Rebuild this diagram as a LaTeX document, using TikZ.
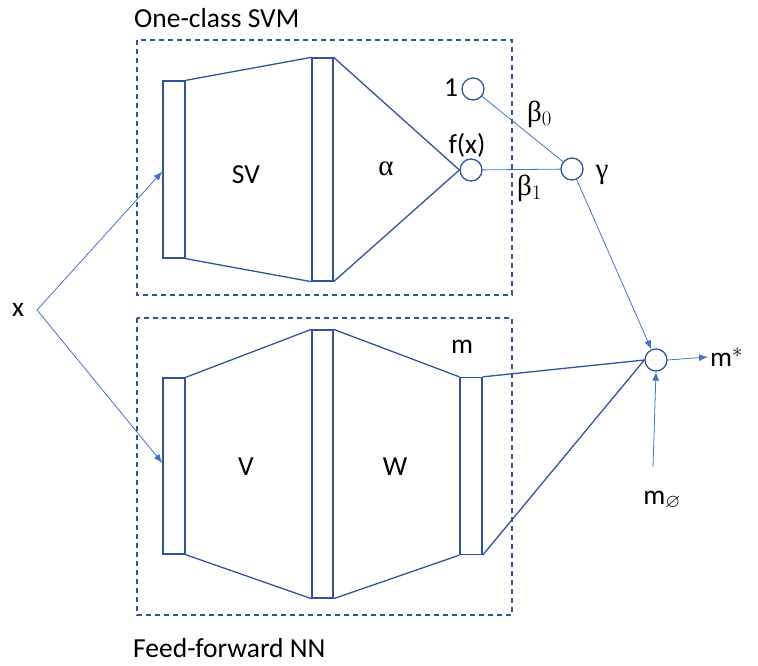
\documentclass[tikz,border=0pt]{standalone}
\usepackage{fontspec}
\usepackage{amssymb}
\setmainfont{Carlito}
\newfontfamily\greekfont{Liberation Serif}
\usetikzlibrary{arrows.meta}

\definecolor{boxblue}{HTML}{2F5597}
\definecolor{wireblue}{HTML}{4472C4}

\tikzset{
  layer/.style={draw=boxblue, line width=1.3pt, inner sep=0pt, minimum width=#1},
  layer/.default=22pt,
  unit/.style={draw=boxblue, line width=1.3pt, circle, inner sep=0pt, minimum size=22pt},
  frame/.style={draw=boxblue, line width=1.2pt, dash pattern=on 5pt off 4pt},
  edge/.style={draw=boxblue, line width=1.3pt},
  wire/.style={draw=wireblue, line width=0.8pt},
  feed/.style={wire, -{Latex[length=9pt,width=7pt]}},
  lbl/.style={font=\fontsize{27.5}{32}\selectfont, inner sep=0pt},
  glbl/.style={font=\greekfont\fontsize{29}{32}\selectfont, inner sep=0pt}
}

\begin{document}
\begin{tikzpicture}[x=1pt, y=-1pt]
\useasboundingbox (0,0) rectangle (758,665);

% frames
\draw[frame] (137,40) rectangle (512,295);
\draw[frame] (137,318) rectangle (512,615);
\node[lbl, anchor=west] (svmtitle) at (134,18) {One-class SVM};
\node[lbl, anchor=west] (nntitle) at (133,648) {Feed-forward NN};

% one-class SVM
\node[layer, minimum height=177pt] (svin) at (174,169.5) {};
\node[layer=21pt, minimum height=223pt] (svhid) at (322.5,169.5) {};
\node[unit] (fx) at (471,170) {};
\node[unit] (one) at (473,89) {};
\node[unit] (gam) at (572,169) {};
\draw[edge] (svin.north east) -- (svhid.north west);
\draw[edge] (svin.south east) -- (svhid.south west);
\draw[edge] (svhid.north east) -- (fx.west);
\draw[edge] (svhid.south east) -- (fx.west);
\node[lbl] (svtxt) at (246,175) {SV};
\node[glbl] (alphatxt) at (386,169) {α};
\node[lbl] (fxtxt) at (467,145) {f(x)};
\node[lbl] (onetxt) at (451,88) {1};
\node[glbl] (gamtxt) at (602,175) {γ};
\node[glbl, anchor=west] (b0txt) at (527,114) {β$_0$};
\node[glbl, anchor=west] (b1txt) at (517,188) {β$_1$};
\draw[wire] (one) -- (gam);
\draw[wire] (fx) -- (gam);

% feed-forward NN
\node[layer, minimum height=176pt] (nnin) at (174,466) {};
\node[layer=21pt, minimum height=268pt] (nnhid) at (322.5,464) {};
\node[layer, minimum height=177pt] (nnout) at (471,466) {};
\draw[edge] (nnin.north east) -- (nnhid.north west);
\draw[edge] (nnin.south east) -- (nnhid.south west);
\draw[edge] (nnhid.north east) -- (nnout.north west);
\draw[edge] (nnhid.south east) -- (nnout.south west);
\node[lbl] (vtxt) at (246,467) {V};
\node[lbl] (wtxt) at (395,467) {W};
\node[lbl] (mtxt) at (462,347) {m};

% output
\node[unit] (mix) at (656,360) {};
\node[lbl, anchor=west] (mstar) at (710,357) {m$^{*}$};
\node[lbl] (mnull) at (662,500) {m$_{\varnothing}$};
\coordinate (nullend) at (653,467);
\draw[edge] (nnout.north east) -- (mix.west);
\draw[edge] (nnout.south east) -- (mix.west);
\draw[feed] (gam) -- (mix);
\draw[feed] (mix.east) -- ([xshift=-2pt]mstar.west);
\draw[feed] (nullend) -- (mix.south);

% input
\node[lbl] (xin) at (18,310) {x};
\coordinate (xtip) at (37,310);
\draw[feed] (xtip) -- ([yshift=-2pt]svin.west);
\draw[feed] (xtip) -- ([yshift=3pt]nnin.west);
\end{tikzpicture}
\end{document}
